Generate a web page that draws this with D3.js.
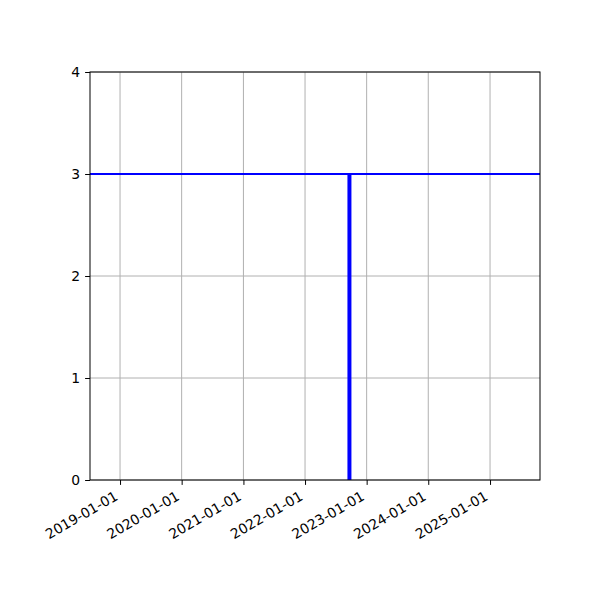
<!DOCTYPE html>
<meta charset="utf-8">
<head>
  <title>Date line chart</title>
</head>
<style>
  body { margin: 0; background: #fff; }
  text { font-family: "DejaVu Sans", sans-serif; }
</style>
<body>
<div id="content"></div>
<script src="https://cdnjs.cloudflare.com/ajax/libs/d3/7.8.5/d3.min.js"></script>
<script>

// values
const xDomain = ["2018-07-07", "2025-10-24"]
const yDomain = [0, 4]
const tickDates = ["2019-01-01", "2020-01-01", "2021-01-01", "2022-01-01", "2023-01-01", "2024-01-01", "2025-01-01"]
const yTicks = [0, 1, 2, 3, 4]
const hLevel = [3]
const eventDates = ["2022-09-21"]
const eventValues = [3]

const width = 600
const height = 600
const margin = {left: 90, right: 60, top: 72, bottom: 120}
const fs = 13.9

const parse = d3.timeParse("%Y-%m-%d")

const svg = d3.select('#content')
  .append('svg')
    .attr('width', width)
    .attr('height', height)

const x = d3.scaleTime()
  .domain(xDomain.map(parse))
  .range([margin.left, width - margin.right])

const y = d3.scaleLinear()
  .domain(yDomain)
  .range([height - margin.bottom, margin.top])

// grid
svg.append('g')
  .selectAll('line')
  .data(tickDates.map(parse))
  .enter().append('line')
    .attr('x1', d => x(d)).attr('x2', d => x(d))
    .attr('y1', y(yDomain[0])).attr('y2', y(yDomain[1]))
    .attr('stroke', '#b0b0b0').attr('stroke-width', 1)

svg.append('g')
  .selectAll('line')
  .data(yTicks)
  .enter().append('line')
    .attr('x1', margin.left).attr('x2', width - margin.right)
    .attr('y1', d => y(d)).attr('y2', d => y(d))
    .attr('stroke', '#b0b0b0').attr('stroke-width', 1)

// horizontal level
svg.append('g')
  .selectAll('line')
  .data(hLevel)
  .enter().append('line')
    .attr('x1', margin.left).attr('x2', width - margin.right)
    .attr('y1', d => y(d)).attr('y2', d => y(d))
    .attr('stroke', 'blue').attr('stroke-width', 2)

// vertical event lines
svg.append('g')
  .selectAll('line')
  .data(eventDates.map((d, i) => ({date: parse(d), v: eventValues[i]})))
  .enter().append('line')
    .attr('x1', d => x(d.date)).attr('x2', d => x(d.date))
    .attr('y1', y(0)).attr('y2', d => y(d.v))
    .attr('stroke', 'blue').attr('stroke-width', 4)

// axes
const xAxis = svg.append('g')
  .attr('transform', 'translate(0,' + y(0) + ')')
  .call(d3.axisBottom(x)
    .tickValues(tickDates.map(parse))
    .tickFormat(d3.timeFormat("%Y-%m-%d"))
    .tickSizeInner(4.9).tickSizeOuter(0).tickPadding(4.9))

// rotated labels, right edge at the tick, top just under the tick
xAxis.selectAll('text')
  .attr('font-size', fs + 'px')
  .attr('fill', '#000')
  .attr('text-anchor', 'end')
  .attr('x', 0)
  .attr('y', -0.236 * fs)
  .attr('dy', null)
  .attr('transform', 'translate(0,' + (9.8 + 0.866 * fs) + ') rotate(-30)')

const yAxis = svg.append('g')
  .attr('transform', 'translate(' + margin.left + ',0)')
  .call(d3.axisLeft(y)
    .tickValues(yTicks)
    .tickFormat(d3.format("d"))
    .tickSizeInner(4.9).tickSizeOuter(0).tickPadding(4.9))

yAxis.selectAll('text').attr('font-size', fs + 'px').attr('fill', '#000')

svg.selectAll('.domain').remove()
svg.selectAll('.tick line').attr('stroke', '#000')

// frame
svg.append('rect')
  .attr('x', margin.left).attr('y', margin.top)
  .attr('width', width - margin.left - margin.right)
  .attr('height', height - margin.top - margin.bottom)
  .attr('fill', 'none').attr('stroke', '#000').attr('stroke-width', 1)

</script>
</body>
